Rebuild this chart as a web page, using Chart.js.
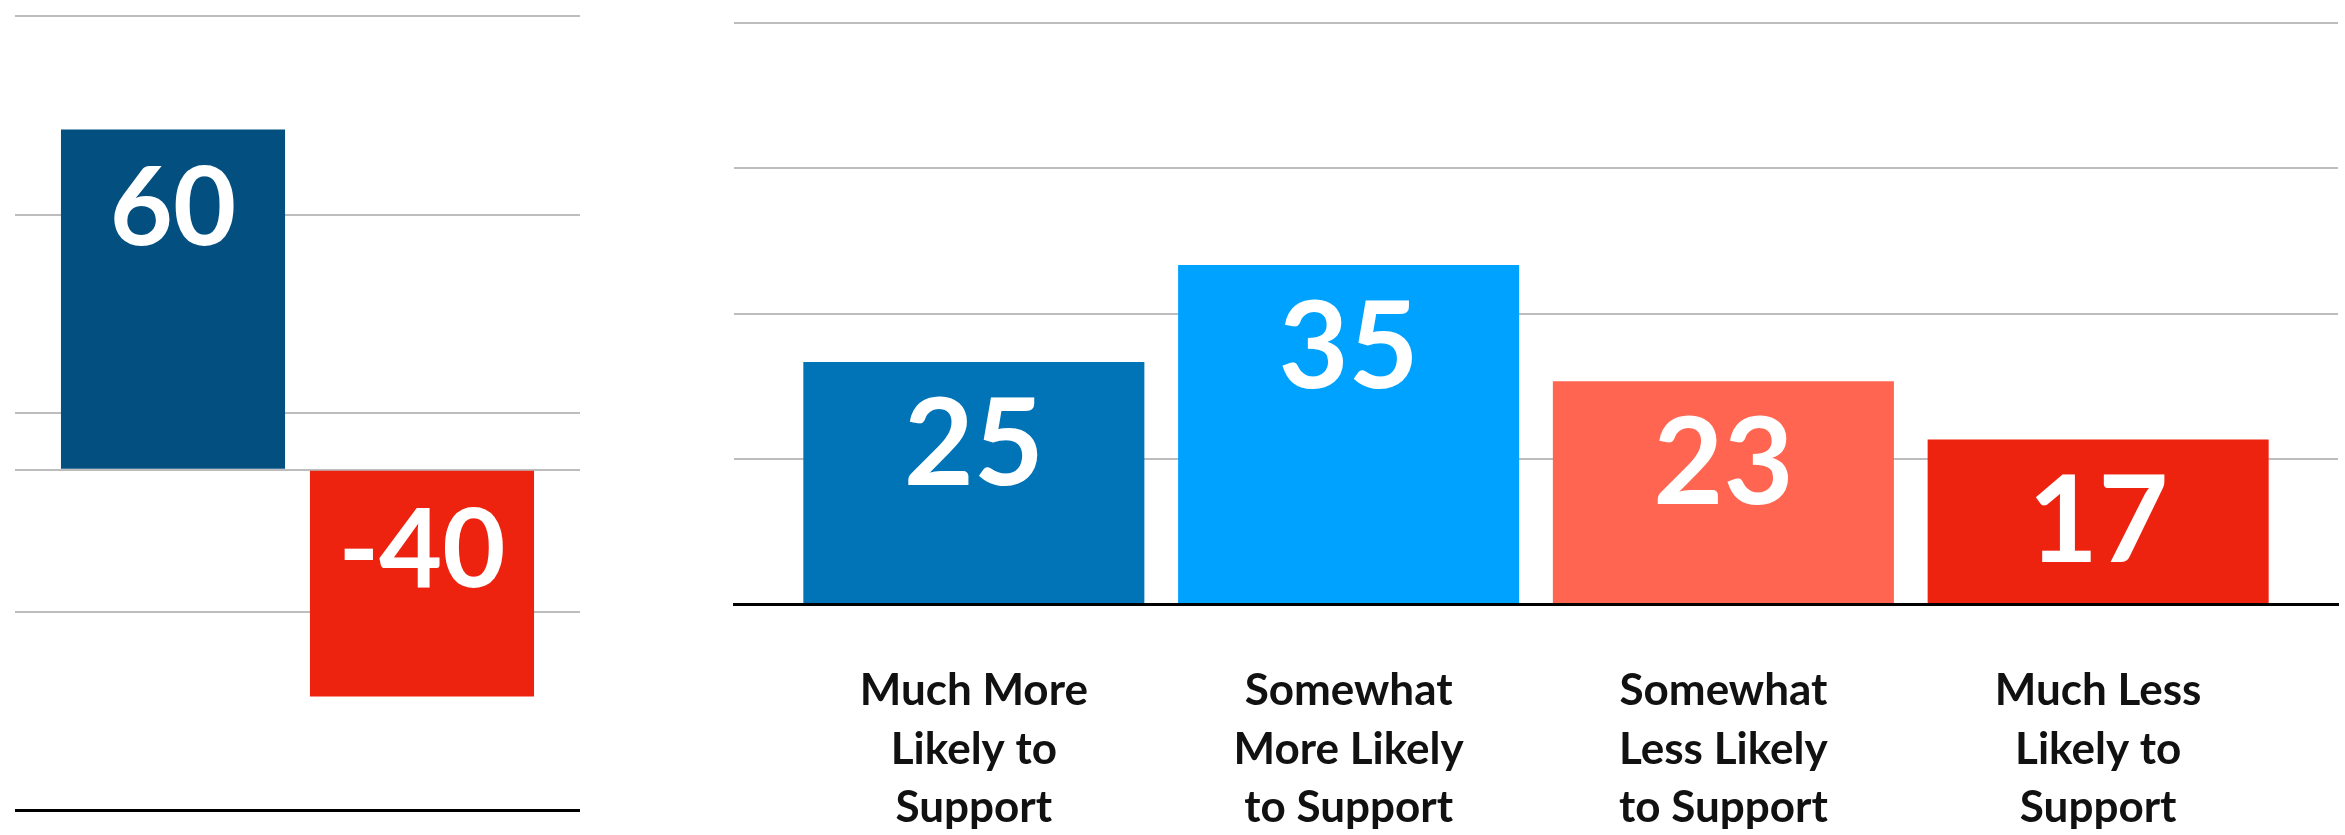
<!DOCTYPE html>
<html>
<head>
<meta charset="utf-8">
<script src="https://cdn.jsdelivr.net/npm/chart.js@4/dist/chart.umd.min.js"></script>
<style>
  html, body { margin: 0; padding: 0; background: #ffffff; overflow: hidden; }
  #wrap { position: relative; width: 2345px; height: 835px; }
  #c1 { position: absolute; left: 0; top: 0; }
  #c2 { position: absolute; left: 700px; top: 0; }
</style>
</head>
<body>
<div id="wrap">
  <canvas id="c1" width="600" height="835"></canvas>
  <canvas id="c2" width="1645" height="835"></canvas>
</div>
<script>
// ---- Data ----
const leftCategories = [''];
const leftValues = [60, -40];
const leftColors = ['#024F80', '#ED2310'];
const leftTickValues = [80, 45, 10, 0, -25, -60];

const rightCategories = [
  ['Much More', 'Likely to', 'Support'],
  ['Somewhat', 'More Likely', 'to Support'],
  ['Somewhat', 'Less Likely', 'to Support'],
  ['Much Less', 'Likely to', 'Support']
];
const rightValues = [25, 35, 23, 17];
const rightColors = ['#0074B7', '#00A2FF', '#FF6550', '#ED2310'];
const rightTickValues = [0, 15, 30, 45, 60];

const GRID = '#BDBDBD';
const FONT = "Lato, 'Open Sans', 'DejaVu Sans', sans-serif";

function valueLabels(fontSize, baselineOffset) {
  return {
    id: 'valueLabels',
    afterDatasetsDraw(chart) {
      const ctx = chart.ctx;
      ctx.save();
      ctx.fillStyle = '#ffffff';
      ctx.font = 'bold ' + fontSize + 'px ' + FONT;
      ctx.textAlign = 'center';
      ctx.textBaseline = 'alphabetic';
      chart.data.datasets.forEach((ds, di) => {
        const meta = chart.getDatasetMeta(di);
        meta.data.forEach((el, i) => {
          const raw = ds.data[i];
          const v = (typeof raw === 'object') ? raw.y : raw;
          const top = Math.min(el.y, el.base);
          ctx.fillText(String(v), el.x, top + baselineOffset);
        });
      });
      ctx.restore();
    }
  };
}

// ---- Left chart ----
new Chart(document.getElementById('c1'), {
  type: 'bar',
  data: {
    labels: leftCategories,
    datasets: leftValues.map((v, i) => ({
      data: [v],
      backgroundColor: leftColors[i],
      borderWidth: 0
    }))
  },
  options: {
    responsive: false,
    devicePixelRatio: 1,
    animation: false,
    layout: { padding: { left: 15, right: 20, top: 16, bottom: 25 } },
    plugins: { legend: { display: false }, tooltip: { enabled: false } },
    datasets: { bar: { categoryPercentage: 0.8814, barPercentage: 0.9 } },
    scales: {
      x: { display: false },
      y: {
        display: true,
        min: -60, max: 80,
        afterBuildTicks: (s) => { s.ticks = leftTickValues.map(v => ({ value: v })); },
        ticks: { display: false },
        border: { display: false },
        grid: {
          drawTicks: false,
          color: (c) => c.tick && c.tick.value === -60 ? '#000000' : GRID,
          lineWidth: (c) => c.tick && c.tick.value === -60 ? 3 : 2
        }
      }
    }
  },
  plugins: [valueLabels(109, 116)]
});

// ---- Right chart ----
new Chart(document.getElementById('c2'), {
  type: 'bar',
  data: {
    datasets: [{
      data: rightValues.map((v, i) => ({ x: i, y: v })),
      backgroundColor: rightColors,
      borderWidth: 0,
      categoryPercentage: 1,
      barPercentage: 0.91
    }]
  },
  options: {
    responsive: false,
    devicePixelRatio: 1,
    animation: false,
    layout: { padding: { left: 34, right: 7, top: 23, bottom: 0 } },
    plugins: { legend: { display: false }, tooltip: { enabled: false } },
    scales: {
      x: {
        type: 'linear',
        offset: false,
        min: -0.64, max: 3.64,
        z: 1,
        afterBuildTicks: (s) => { s.ticks = rightCategories.map((c, i) => ({ value: i })); },
        afterFit: (s) => { s.height = 231; },
        ticks: {
          autoSkip: false,
          maxRotation: 0,
          padding: 58,
          color: '#111111',
          font: { family: FONT, size: 44, weight: 'bold', lineHeight: 1.33 },
          callback: (v) => rightCategories[v]
        },
        grid: { display: false, drawTicks: false, offset: false },
        border: { display: true, color: '#000000', width: 3 }
      },
      y: {
        display: true,
        min: 0, max: 60,
        afterBuildTicks: (s) => { s.ticks = rightTickValues.map(v => ({ value: v })); },
        ticks: { display: false },
        border: { display: false },
        grid: { drawTicks: false, color: GRID, lineWidth: 2 }
      }
    }
  },
  plugins: [valueLabels(121, 123)]
});
</script>
</body>
</html>
